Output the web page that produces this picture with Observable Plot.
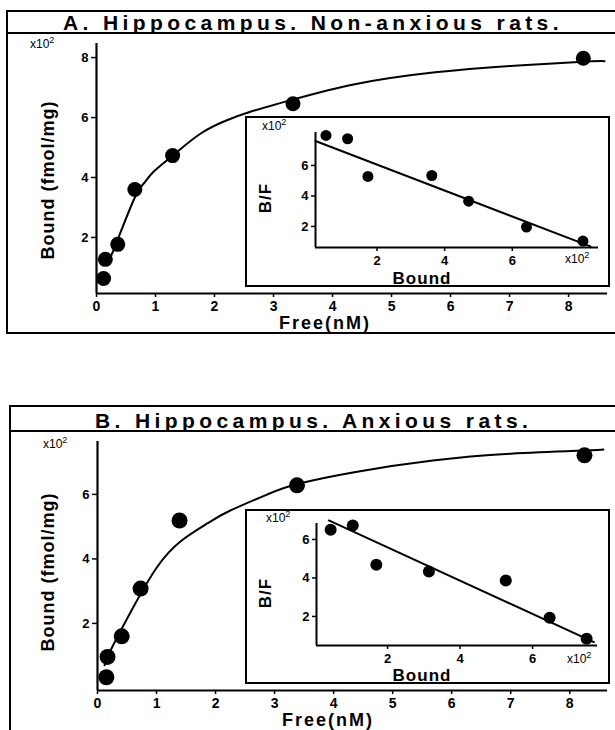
<!DOCTYPE html>
<html><head><meta charset="utf-8">
<script src="https://cdn.jsdelivr.net/npm/d3@7"></script>
<script src="https://cdn.jsdelivr.net/npm/@observablehq/plot@0.6"></script>
<style>
body{margin:0;background:#fff;}
#fig{position:relative;width:615px;height:730px;overflow:hidden;font-family:"Liberation Sans",Arial,sans-serif;color:#000;background:#fff;}
.line{position:absolute;background:#000;}
.title{position:absolute;font-weight:bold;font-size:21px;letter-spacing:4.4px;text-decoration:underline;text-decoration-thickness:2px;text-underline-offset:2px;white-space:nowrap;line-height:1;}
.lab{position:absolute;font-weight:bold;white-space:nowrap;line-height:1;transform:translate(-50%,-50%);}
.rot{transform:translate(-50%,-50%) rotate(-90deg);}
.exp{position:absolute;font-size:12px;white-space:nowrap;line-height:1;transform:translate(0,-50%);}
.exp sup{font-size:9px;vertical-align:5px;line-height:0;}
.box{position:absolute;border:2px solid #000;background:#fff;box-sizing:border-box;}
.plot{position:absolute;}
</style></head><body><div id="fig"></div>
<script>
// ---- Panel A: non-anxious rats ----
const freeA = [0.12, 0.15, 0.36, 0.65, 1.29, 3.33, 8.25];
const boundA = [0.63, 1.27, 1.77, 3.60, 4.73, 6.46, 7.98];
const curveFreeA = [0.18, 0.32, 0.63, 0.80, 0.97, 1.29, 1.76, 2.20, 2.62, 3.33, 4.40, 5.74, 7.08, 8.32, 8.61];
const curveBoundA = [1.10, 1.73, 3.25, 3.80, 4.20, 4.73, 5.46, 5.90, 6.20, 6.60, 7.12, 7.51, 7.73, 7.87, 7.88];
const scBoundA = [0.49, 1.13, 1.73, 3.62, 4.71, 6.42, 8.09];
const scRatioA = [7.97, 7.75, 5.28, 5.34, 3.66, 1.96, 1.04];
const scLineBoundA = [0.18, 8.31];
const scLineRatioA = [7.60, 0.69];

// ---- Panel B: anxious rats ----
const freeB = [0.15, 0.17, 0.41, 0.73, 1.39, 3.38, 8.25];
const boundB = [0.33, 0.96, 1.60, 3.08, 5.19, 6.28, 7.21];
const curveFreeB = [0.12, 0.22, 0.59, 1.01, 1.41, 1.86, 2.25, 2.88, 3.38, 4.35, 5.68, 7.00, 8.25, 8.57];
const curveBoundB = [0.70, 1.16, 2.45, 3.75, 4.55, 5.10, 5.50, 6.00, 6.32, 6.69, 7.05, 7.26, 7.36, 7.39];
const scBoundB = [0.43, 1.04, 1.69, 3.14, 5.26, 6.47, 7.49];
const scRatioB = [6.50, 6.73, 4.69, 4.34, 3.87, 1.93, 0.84];
const scLineBoundB = [0.38, 7.69];
const scLineRatioB = [6.99, 0.67];

// ---- tick labels / texts ----
const mainXTicks = [0, 1, 2, 3, 4, 5, 6, 7, 8];
const mainYTicksA = [2, 4, 6, 8];
const mainYTicksB = [2, 4, 6];
const insetTicks = [2, 4, 6];
const titleA = "A. Hippocampus. Non-anxious rats.";
const titleB = "B. Hippocampus. Anxious rats.";

const FONT = "Liberation Sans, Arial, Helvetica, sans-serif";
const fmt = d => String(d);
const zipPts = (xs, ys) => xs.map((x, i) => ({x, y: ys[i]}));
const fig = document.getElementById("fig");

function place(el, left, top) {
  el.style.left = left + "px"; el.style.top = top + "px";
  el.classList.add("plot");
  fig.appendChild(el);
}
function div(cls, html, css) {
  const d = document.createElement("div");
  d.className = cls; d.innerHTML = html || "";
  Object.assign(d.style, css);
  fig.appendChild(d);
  return d;
}

function mainChart(o) {
  return Plot.plot({
    width: 615, height: o.height,
    marginTop: o.mt, marginBottom: o.mb, marginLeft: o.ml, marginRight: o.mr,
    style: {fontFamily: FONT, fontWeight: "bold", background: "transparent", overflow: "visible", color: "#000"},
    x: {domain: o.xDomain},
    y: {domain: o.yDomain},
    marks: [
      Plot.axisX({ticks: mainXTicks, tickFormat: fmt, tickSize: 4, tickPadding: 4, label: null, fontSize: 14, fontWeight: "bold", strokeWidth: 1.5}),
      Plot.axisY({ticks: o.yTicks, tickFormat: fmt, tickSize: 5, tickPadding: 3, label: null, fontSize: 13, fontWeight: "bold", strokeWidth: 1.5}),
      Plot.ruleX([o.xDomain[0]], {strokeWidth: 2.2}),
      Plot.ruleY([o.yDomain[0]], {strokeWidth: 2.2}),
      Plot.line(zipPts(o.cx, o.cy), {x: "x", y: "y", strokeWidth: 2, curve: "natural"}),
      Plot.dot(zipPts(o.px, o.py), {x: "x", y: "y", r: o.r, fill: "#000", stroke: "none"})
    ]
  });
}

function insetChart(o) {
  return Plot.plot({
    width: o.width, height: o.height,
    marginTop: o.mt, marginBottom: o.mb, marginLeft: o.ml, marginRight: o.mr,
    style: {fontFamily: FONT, fontWeight: "bold", background: "transparent", overflow: "visible", color: "#000"},
    x: {domain: o.xDomain},
    y: {domain: o.yDomain},
    marks: [
      Plot.axisX({ticks: insetTicks, tickFormat: fmt, tickSize: 4, tickPadding: 4, label: null, fontSize: 13, fontWeight: "bold", strokeWidth: 1.5}),
      Plot.axisY({ticks: insetTicks, tickFormat: fmt, tickSize: 4, tickPadding: 3, label: null, fontSize: 13, fontWeight: "bold", strokeWidth: 1.5}),
      Plot.ruleX([o.xDomain[0]], {strokeWidth: 2}),
      Plot.ruleY([o.yDomain[0]], {strokeWidth: 2}),
      Plot.line(zipPts(o.lx, o.ly), {x: "x", y: "y", strokeWidth: 2}),
      Plot.dot(zipPts(o.px, o.py), {x: "x", y: "y", r: o.r, fill: "#000", stroke: "none"})
    ]
  });
}

// ---------- Panel A ----------
div("line", "", {left: "6px", top: "10px", width: "609px", height: "2px"});
div("line", "", {left: "6px", top: "32px", width: "609px", height: "2px"});
div("line", "", {left: "6px", top: "10px", width: "2px", height: "324px"});
div("line", "", {left: "6px", top: "332px", width: "609px", height: "2px"});
div("title", titleA, {left: "63px", top: "11.5px"});

place(mainChart({height: 340, mt: 43, mb: 47, ml: 96, mr: 8,
  xDomain: [0, 8.66], yDomain: [0.13, 8.47], yTicks: mainYTicksA,
  cx: curveFreeA, cy: curveBoundA, px: freeA, py: boundA, r: 7.5}), 0, 0);

div("box", "", {left: "245px", top: "116px", width: "365px", height: "171px"});
place(insetChart({width: 365, height: 171, mt: 16, mb: 40, ml: 70, mr: 12,
  xDomain: [0.18, 8.55], yDomain: [0.62, 8.16],
  lx: scLineBoundA, ly: scLineRatioA, px: scBoundA, py: scRatioA, r: 5.5}), 245, 116);

div("exp", "x10<sup>2</sup>", {left: "30px", top: "44px"});
div("exp", "x10<sup>2</sup>", {left: "262px", top: "126px"});
div("exp", "x10<sup>2</sup>", {left: "565px", top: "259px"});
div("lab rot", "Bound (fmol/mg)", {left: "48px", top: "180px", fontSize: "18px", letterSpacing: "1px"});
div("lab", "Free(nM)", {left: "325px", top: "323px", fontSize: "18px", letterSpacing: "2px"});
div("lab", "Bound", {left: "422px", top: "278px", fontSize: "17px", letterSpacing: "1px"});
div("lab rot", "B/F", {left: "265px", top: "198px", fontSize: "17px", letterSpacing: "1px"});

// ---------- Panel B ----------
div("line", "", {left: "9px", top: "405px", width: "606px", height: "2px"});
div("line", "", {left: "9px", top: "430px", width: "606px", height: "2px"});
div("line", "", {left: "9px", top: "405px", width: "2px", height: "325px"});
div("title", titleB, {left: "95px", top: "409.5px"});

place(mainChart({height: 340, mt: 51, mb: 40, ml: 97, mr: 8,
  xDomain: [0, 8.64], yDomain: [-0.08, 7.64], yTicks: mainYTicksB,
  cx: curveFreeB, cy: curveBoundB, px: freeB, py: boundB, r: 8}), 0, 390);

div("box", "", {left: "245px", top: "509px", width: "365px", height: "175px"});
place(insetChart({width: 365, height: 175, mt: 14, mb: 39, ml: 71, mr: 13,
  xDomain: [0.04, 7.79], yDomain: [0.49, 6.83],
  lx: scLineBoundB, ly: scLineRatioB, px: scBoundB, py: scRatioB, r: 6}), 245, 509);

div("exp", "x10<sup>2</sup>", {left: "43px", top: "444px"});
div("exp", "x10<sup>2</sup>", {left: "266px", top: "518px"});
div("exp", "x10<sup>2</sup>", {left: "567px", top: "659px"});
div("lab rot", "Bound (fmol/mg)", {left: "48px", top: "572px", fontSize: "18px", letterSpacing: "1px"});
div("lab", "Free(nM)", {left: "328px", top: "720px", fontSize: "18px", letterSpacing: "2px"});
div("lab", "Bound", {left: "422px", top: "675px", fontSize: "17px", letterSpacing: "1px"});
div("lab rot", "B/F", {left: "265px", top: "593px", fontSize: "17px", letterSpacing: "1px"});
</script></body></html>
